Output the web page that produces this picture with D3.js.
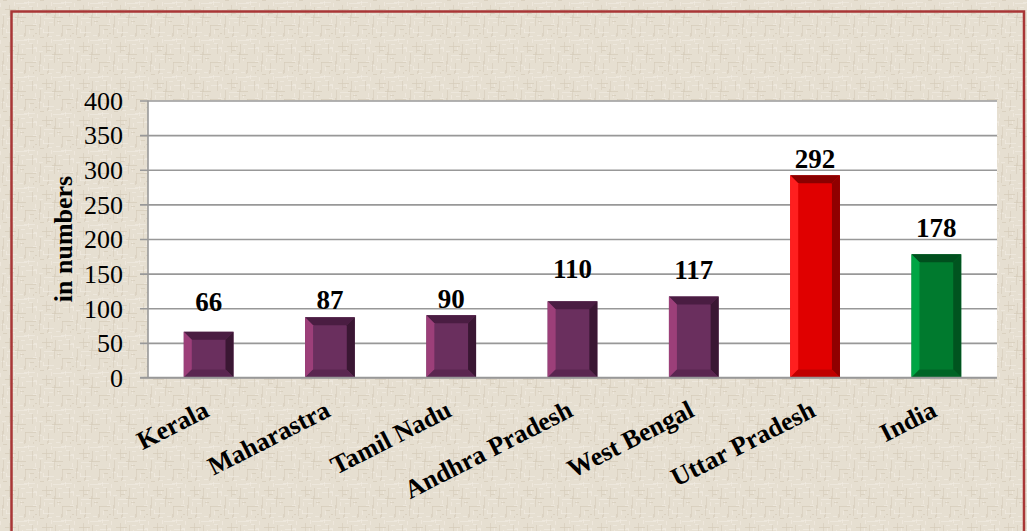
<!DOCTYPE html>
<html lang="en">
<head>
    <meta charset="UTF-8">
    <title>in numbers by state</title>
    <script src="https://d3js.org/d3.v7.min.js"></script>
    <style>
        body { margin: 0; background: #fff; }
        svg { display: block; }
        .tick-label { font-family: "Liberation Serif", "Times New Roman", serif; font-size: 26px; fill: #000; }
        .cat-label { font-family: "Liberation Serif", "Times New Roman", serif; font-size: 26px; font-weight: bold; fill: #000; }
        .val-label { font-family: "Liberation Serif", "Times New Roman", serif; font-size: 27px; font-weight: bold; fill: #000; }
        .axis-title { font-family: "Liberation Serif", "Times New Roman", serif; font-size: 26px; font-weight: bold; fill: #000; }
    </style>
</head>
<body>
<div id="chart"></div>
<script>
    // data
    const categories = ["Kerala", "Maharastra", "Tamil Nadu", "Andhra Pradesh", "West Bengal", "Uttar Pradesh", "India"];
    const values = [66, 87, 90, 110, 117, 292, 178];
    const groups = ["state", "state", "state", "state", "state", "up", "india"];
    const yTicks = [0, 50, 100, 150, 200, 250, 300, 350, 400];

    // layout (label gaps above bars, as placed in the original)
    const labelGap = [21, 8, 7.5, 23, 17.5, 7.5, 17];

    const W = 1027, H = 531;
    const plot = { left: 148, right: 997, top: 100.5, bottom: 377.5 };

    // bevel colours: face, left, top, right, bottom
    const palette = {
        state: { face: "#6a2f5e", left: "#9c3f79", top: "#4a1d42", right: "#3a1733", bottom: "#5a2650" },
        up:    { face: "#e00000", left: "#ff1f1f", top: "#8a0000", right: "#900000", bottom: "#c00000" },
        india: { face: "#007a2e", left: "#00a544", top: "#004f1e", right: "#00541f", bottom: "#006426" }
    };

    const svg = d3.select("#chart").append("svg")
        .attr("width", W)
        .attr("height", H);

    // linen-ish background texture (fine woven lines)
    const defs = svg.append("defs");
    const T = 37;
    const pat = defs.append("pattern")
        .attr("id", "linen")
        .attr("width", T)
        .attr("height", T)
        .attr("patternUnits", "userSpaceOnUse");
    pat.append("rect").attr("width", T).attr("height", T).attr("fill", "#e6dfd1");
    for (let i = 0; i < 22; i++) {
        const p = (i * 11) % T;
        const q = (i * 23 + 3) % T;
        const len = 4 + (i * 7) % 14;
        pat.append("rect").attr("x", p).attr("y", q).attr("width", 1).attr("height", len)
            .attr("fill", i % 2 ? "#d8cfbe" : "#f1ece2").attr("opacity", 0.7);
        pat.append("rect").attr("x", q).attr("y", p).attr("width", len).attr("height", 1)
            .attr("fill", i % 3 ? "#f0ebe1" : "#d5ccba").attr("opacity", 0.7);
    }

    svg.append("rect")
        .attr("width", W).attr("height", H)
        .attr("fill", "url(#linen)");

    // frame
    svg.append("rect")
        .attr("x", 11.5).attr("y", 11.5)
        .attr("width", 1012.5).attr("height", 560)
        .attr("fill", "none")
        .attr("stroke", "#a83636")
        .attr("stroke-width", 2.5);

    const x = d3.scaleBand()
        .domain(categories)
        .range([plot.left, plot.right])
        .paddingInner(0.59)
        .paddingOuter(0.295);

    const y = d3.scaleLinear()
        .domain([0, 400])
        .range([plot.bottom, plot.top]);

    // plot area
    svg.append("rect")
        .attr("x", plot.left).attr("y", plot.top)
        .attr("width", plot.right - plot.left)
        .attr("height", plot.bottom - plot.top)
        .attr("fill", "#fff");

    // y axis with gridlines
    const yAxis = svg.append("g")
        .attr("transform", `translate(${plot.left},0)`)
        .call(d3.axisLeft(y).tickValues(yTicks).tickSizeInner(-(plot.right - plot.left)).tickSizeOuter(0).tickPadding(0));
    yAxis.select(".domain").remove();
    yAxis.attr("font-family", null).attr("font-size", null);
    yAxis.selectAll(".tick line")
        .attr("x1", -8)
        .attr("stroke", "#989898")
        .attr("stroke-width", 1.6);
    yAxis.selectAll(".tick text")
        .attr("class", "tick-label")
        .attr("x", -25)
        .attr("dy", "0.34em");

    svg.append("line")
        .attr("x1", plot.left).attr("x2", plot.left)
        .attr("y1", plot.top).attr("y2", plot.bottom)
        .attr("stroke", "#989898").attr("stroke-width", 1.6);

    // bars with bevel
    const bars = svg.append("g").selectAll("g")
        .data(categories)
        .join("g");

    bars.each(function(c, i) {
        const g = d3.select(this);
        const col = palette[groups[i]];
        const x0 = x(c), x1 = x(c) + x.bandwidth();
        const y0 = y(values[i]), y1 = y(0);
        const b = Math.min(8, (y1 - y0) / 2);
        const poly = pts => pts.map(p => p.join(",")).join(" ");
        g.append("rect").attr("x", x0).attr("y", y0).attr("width", x1 - x0).attr("height", y1 - y0).attr("fill", col.face);
        g.append("polygon").attr("points", poly([[x0, y0], [x1, y0], [x1 - b, y0 + b], [x0 + b, y0 + b]])).attr("fill", col.top);
        g.append("polygon").attr("points", poly([[x0, y0], [x0 + b, y0 + b], [x0 + b, y1 - b], [x0, y1]])).attr("fill", col.left);
        g.append("polygon").attr("points", poly([[x1, y0], [x1, y1], [x1 - b, y1 - b], [x1 - b, y0 + b]])).attr("fill", col.right);
        g.append("polygon").attr("points", poly([[x0, y1], [x0 + b, y1 - b], [x1 - b, y1 - b], [x1, y1]])).attr("fill", col.bottom);
    });

    // value labels
    svg.append("g").selectAll("text")
        .data(categories)
        .join("text")
        .attr("class", "val-label")
        .attr("x", c => x(c) + x.bandwidth() / 2)
        .attr("y", (c, i) => y(values[i]) - labelGap[i])
        .attr("text-anchor", "middle")
        .text((c, i) => values[i]);

    // x axis line
    svg.append("line")
        .attr("x1", plot.left - 8).attr("x2", plot.right)
        .attr("y1", plot.bottom).attr("y2", plot.bottom)
        .attr("stroke", "#989898").attr("stroke-width", 1.6);

    // category labels
    svg.append("g").selectAll("text")
        .data(categories)
        .join("text")
        .attr("class", "cat-label")
        .attr("text-anchor", "end")
        .attr("transform", c => `translate(${x(c) + x.bandwidth() / 2 + 2},${plot.bottom + 38}) rotate(-27)`)
        .text(c => c);

    // y axis title
    svg.append("text")
        .attr("class", "axis-title")
        .attr("text-anchor", "middle")
        .attr("transform", `translate(72,${(175 + 303) / 2}) rotate(-90)`)
        .text("in numbers");
</script>
</body>
</html>
